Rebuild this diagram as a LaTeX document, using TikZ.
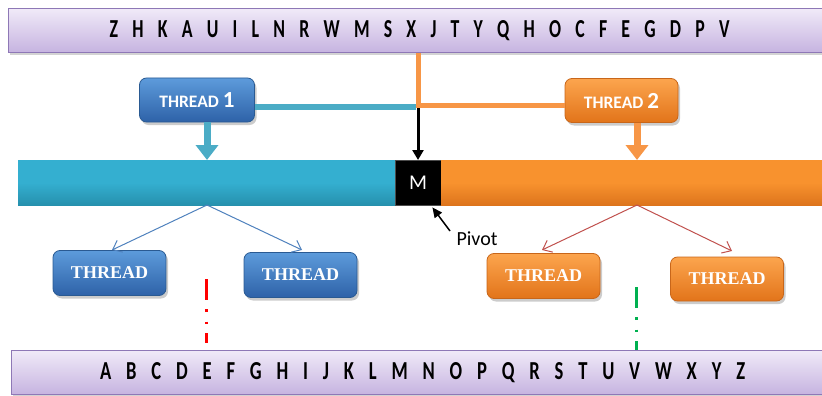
\documentclass[tikz,border=0pt]{standalone}
\usepackage{fontspec}
\setmainfont{Carlito}
\newfontfamily\serifbold{Liberation Serif}
\usetikzlibrary{arrows.meta,shadows,calc}

\definecolor{lavtop}{HTML}{F0EAF8}
\definecolor{lavbot}{HTML}{C6B3E0}
\definecolor{lavedge}{HTML}{8E78B6}
\definecolor{tealfill}{HTML}{34AFD0}
\definecolor{tealdark}{HTML}{2690AD}
\definecolor{tealline}{HTML}{4BACC6}
\definecolor{orangefill}{HTML}{F8922E}
\definecolor{orangedark}{HTML}{DD741C}
\definecolor{orangeline}{HTML}{F79646}
\definecolor{bluetop}{HTML}{5D9BDB}
\definecolor{bluebot}{HTML}{2E62A8}
\definecolor{blueedge}{HTML}{2A5A92}
\definecolor{ortop}{HTML}{FCA54E}
\definecolor{orbot}{HTML}{E2741A}
\definecolor{oredge}{HTML}{C8661A}
\definecolor{arrblue}{HTML}{4F81BD}
\definecolor{arrred}{HTML}{C0504D}
\definecolor{dashred}{HTML}{FF0000}
\definecolor{dashgreen}{HTML}{00B050}

\tikzset{
  x=1pt, y=-1pt,
  letterbar/.style={draw=lavedge, line width=1.2pt, top color=lavtop, bottom color=lavbot,
    inner sep=0pt, drop shadow={opacity=0.35, shadow xshift=1.5pt, shadow yshift=-2pt}},
  threadbox/.style={rounded corners=7pt, line width=0.8pt, inner sep=0pt, text=white,
    drop shadow={opacity=0.4, shadow xshift=2pt, shadow yshift=-3pt}},
  bluebox/.style={threadbox, draw=blueedge, top color=bluetop, bottom color=bluebot},
  orangebox/.style={threadbox, draw=oredge, top color=ortop, bottom color=orbot},
  bigbox/.style={minimum width=115pt, minimum height=44pt,
    font=\fontsize{17.5}{17.5}\selectfont\bfseries},
  smallbox/.style={minimum width=113pt, minimum height=45pt,
    font=\serifbold\fontsize{18}{18}\selectfont\bfseries},
  barpart/.style={inner sep=0pt, minimum height=45pt},
  fatarrow/.style={line width=7pt, -{Triangle[width=22pt,length=15pt]}},
  thinarrow/.style={line width=1pt, -{Straight Barb[length=8pt,width=13pt]}},
  dashdot/.style={line width=3pt, dash pattern=on 21pt off 9pt on 2.5pt off 10pt on 2.5pt off 9pt on 20pt},
}

\begin{document}
\begin{tikzpicture}
\useasboundingbox (0,0) rectangle (822,396);

% letter bars
\node[letterbar, minimum width=822pt, minimum height=44pt, anchor=north west] (top) at (8,8)
  {\resizebox{620pt}{17pt}{\bfseries\spaceskip=0.8em Z H K A U I L N R W M S X J T Y Q H O C F E G D P V}};
\node[letterbar, minimum width=822pt, minimum height=44pt, anchor=north west] (bottom) at (11,350)
  {\resizebox{645pt}{17pt}{\bfseries\spaceskip=0.8em A B C D E F G H I J K L M N O P Q R S T U V W X Y Z}};

% the array bar split at the pivot
\node[barpart, top color=tealfill, bottom color=tealdark, middle color=tealfill,
  minimum width=377pt, anchor=north west] (left) at (18,160) {};
\node[barpart, fill=black, draw=black!70, minimum width=46pt, anchor=north west,
  text=white, font=\fontsize{21}{21}\selectfont] (m) at (395,160) {M};
\node[barpart, top color=orangefill, bottom color=orangedark, middle color=orangefill,
  minimum width=390pt, anchor=north west] (right) at (441,160) {};

% top threads
\node[bluebox, bigbox] (t1) at (197,100) {THREAD {\fontsize{23}{23}\selectfont 1}};
\node[orangebox, bigbox, minimum width=113pt] (t2) at (621.5,100.5) {THREAD {\fontsize{23}{23}\selectfont 2}};

% lower threads
\node[bluebox, smallbox] (b1) at (109.5,273) {THREAD};
\node[bluebox, smallbox] (b2) at (300.5,275) {THREAD};
\node[orangebox, smallbox] (o1) at (543.5,276) {THREAD};
\node[orangebox, smallbox, minimum height=44pt] (o2) at (727,279) {THREAD};

% connectors between the threads and the pivot
\coordinate (join) at (418,105.5);
\draw[orangeline, line width=5pt] (top.south -| join) -- (join) -- (join -| t2.west);
\draw[tealline, line width=6pt] (t1.east |- 0,106.5) -- (416,106.5);
\draw[black, line width=3pt, -{Triangle[width=11pt,length=10pt]}] (418,108) -- (m.north -| join);

\coordinate (a1) at ($(t1.south)+(10,0)$);
\coordinate (a2) at ($(t2.south)+(15.5,0)$);
\draw[tealline, fatarrow] (a1) -- (a1 |- left.north);
\draw[orangeline, fatarrow] (a2) -- (a2 |- right.north);

% pivot label
\node[font=\fontsize{20}{20}\selectfont, anchor=west] (pivot) at (453,239) {Pivot};
\coordinate (pv) at (450,231);
\draw[black, line width=1.5pt, -{Triangle[width=9pt,length=10pt]}] (pv) -- ($(m.south east)+(-9,2)$);

% partition arrows
\coordinate (lsplit) at (207,205);
\coordinate (rsplit) at (637,205);
\draw[arrblue, thinarrow] (lsplit) -- (112,250);
\draw[arrblue, thinarrow] (lsplit) -- (302,250);
\draw[arrred, thinarrow] (rsplit) -- (542,250);
\draw[arrred, thinarrow] (rsplit) -- (732,251);

% scanning markers
\draw[dashred, dashdot] (206,279) -- (206,343);
\draw[dashgreen, dashdot] (636,287) -- (636,350);
\end{tikzpicture}
\end{document}
